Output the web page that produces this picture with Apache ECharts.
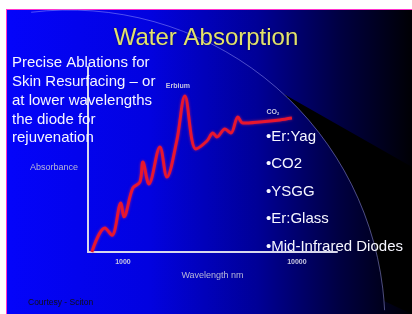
<!DOCTYPE html>
<html>
<head>
<meta charset="utf-8">
<script src="https://cdn.jsdelivr.net/npm/echarts@6/dist/echarts.min.js"></script>
<style>
  html, body { margin: 0; padding: 0; background: #fff; }
  #main { width: 412px; height: 314px; }
</style>
</head>
<body>
<div id="main"></div>
<script type="text/javascript">
  // curve (wavelength nm, relative absorbance)
  var wavelength = [663, 788, 865, 974, 1013, 1141, 1252, 1303, 1411, 1632, 1790, 2043, 2271, 2627, 3040, 3290, 3469, 3857, 4176, 4580, 4894, 6130, 7985, 9361];
  var absorbance = [0, 13, 9, 26.5, 19, 34.6, 37.8, 48.6, 36.8, 56.8, 40.5, 60.5, 84.3, 55.7, 60, 64.3, 62.2, 66.5, 64.3, 73, 69.7, 70.3, 71.4, 72.4];
  var xTicks = [1000, 10000];
  var peakNames = ['Erbium', 'CO{sub|2}'];
  var peakX = [2071, 7278];
  var peakY = [89.7, 75.7];

  var lasers = ['•Er:Yag', '•CO2', '•YSGG', '•Er:Glass', '•Mid-Infrared Diodes'];
  var blurb = ['Precise Ablations for', 'Skin Resurfacing – or', 'at lower wavelengths', 'the diode for', 'rejuvenation'];

  var font = '"Liberation Sans", Arial, sans-serif';

  // slide template: circle edge and black shadow on the right
  var cx = 69, cy = 326, R = 316;
  var shadow = [[282, 93], [412, 167], [412, 314]];
  for (var a = Math.acos((384 - cx) / R); a <= Math.acos((282 - cx) / R); a += 0.01) {
    shadow.push([cx + R * Math.cos(a), cy - R * Math.sin(a)]);
  }

  var points = [];
  for (var i = 0; i < wavelength.length; i++) {
    points.push([wavelength[i], absorbance[i]]);
  }
  var marks = [];
  for (var j = 0; j < peakNames.length; j++) {
    marks.push({ coord: [peakX[j], peakY[j]], value: peakNames[j] });
  }

  var myChart = echarts.init(document.getElementById('main'));
  myChart.setOption({
    animation: false,
    backgroundColor: '#ffffff',
    title: {
      text: 'Water Absorption',
      left: 'center',
      top: 26,
      padding: 0,
      textStyle: { color: '#e2e26c', fontSize: 24, fontWeight: 'normal', fontFamily: font,
        textShadowColor: 'rgba(0,0,0,0.5)', textShadowBlur: 2 }
    },
    graphic: [
      { type: 'rect', z: -10, silent: true, shape: { x: 6, y: 9, width: 406, height: 305 },
        style: { fill: '#ff33cc' } },
      { type: 'rect', z: -9, silent: true, shape: { x: 7, y: 10, width: 405, height: 304 },
        style: { fill: new echarts.graphic.LinearGradient(0, 0, 1, 0, [
          { offset: 0, color: '#0404fa' },
          { offset: 0.35, color: '#0202e0' },
          { offset: 0.62, color: '#000096' },
          { offset: 0.82, color: '#000042' },
          { offset: 1, color: '#000004' }
        ]) } },
      { type: 'polygon', z: -8, silent: true, shape: { points: shadow },
        style: { fill: '#000000' } },
      { type: 'arc', z: -7, silent: true, shape: { cx: cx, cy: cy, r: R, startAngle: -Math.PI / 2 - 0.12, endAngle: -0.05 },
        style: { stroke: 'rgba(170,170,255,0.45)', lineWidth: 1, fill: null } },
      { type: 'text', z: 50, left: 12, top: 54,
        style: { text: blurb.join('\n'), fill: '#f6f6ff', font: '15px ' + font, lineHeight: 18.7 } },
      { type: 'text', z: 50, left: 266, top: 123,
        style: { text: lasers.join('\n'), fill: '#f6f6ff', font: '15px ' + font, lineHeight: 27.5 } },
      { type: 'text', z: 50, left: 28, top: 298,
        style: { text: 'Courtesy - Sciton', fill: '#101018', font: '8.5px ' + font } }
    ],
    grid: { left: 88, top: 67, width: 249, height: 185 },
    xAxis: {
      type: 'log',
      logBase: 10,
      min: 630,
      max: 17000,
      name: 'Wavelength nm',
      nameLocation: 'middle',
      nameGap: 12,
      nameTextStyle: { color: '#b8b8d8', fontSize: 9, fontFamily: font },
      axisLine: { lineStyle: { color: '#d8d8ec', width: 2 } },
      axisTick: { show: false },
      splitLine: { show: false },
      axisLabel: {
        color: '#c8c8e0', fontSize: 7, fontWeight: 'bold', fontFamily: font, margin: 7,
        showMinLabel: false, showMaxLabel: false,
        formatter: function (v) {
          return xTicks.indexOf(Math.round(v)) >= 0 ? String(Math.round(v)) : '';
        }
      }
    },
    yAxis: {
      type: 'value',
      min: 0,
      max: 100,
      name: 'Absorbance',
      nameLocation: 'middle',
      nameRotate: 0,
      nameGap: 10,
      nameTextStyle: { color: '#b8b8d8', fontSize: 9, fontFamily: font, verticalAlign: 'top', padding: [4, 0, 0, 0] },
      axisLine: { show: true, lineStyle: { color: '#d8d8ec', width: 2 } },
      axisTick: { show: false },
      axisLabel: { show: false },
      splitLine: { show: false }
    },
    series: [{
      type: 'line',
      data: points,
      smooth: 0.35,
      symbol: 'none',
      lineStyle: { color: '#e8162e', width: 3, shadowColor: 'rgba(255,40,80,0.6)', shadowBlur: 3 },
      markPoint: {
        symbol: 'circle',
        symbolSize: 0,
        label: {
          show: true, position: 'inside', color: '#c8c8e0', fontSize: 7, fontWeight: 'bold', fontFamily: font,
          formatter: function (p) { return p.value; },
          rich: { sub: { fontSize: 4, color: '#c8c8e0', verticalAlign: 'bottom', padding: [4, 0, 0, 0] } }
        },
        data: marks
      }
    }]
  });
  window.onresize = myChart.resize;
</script>
</body>
</html>
